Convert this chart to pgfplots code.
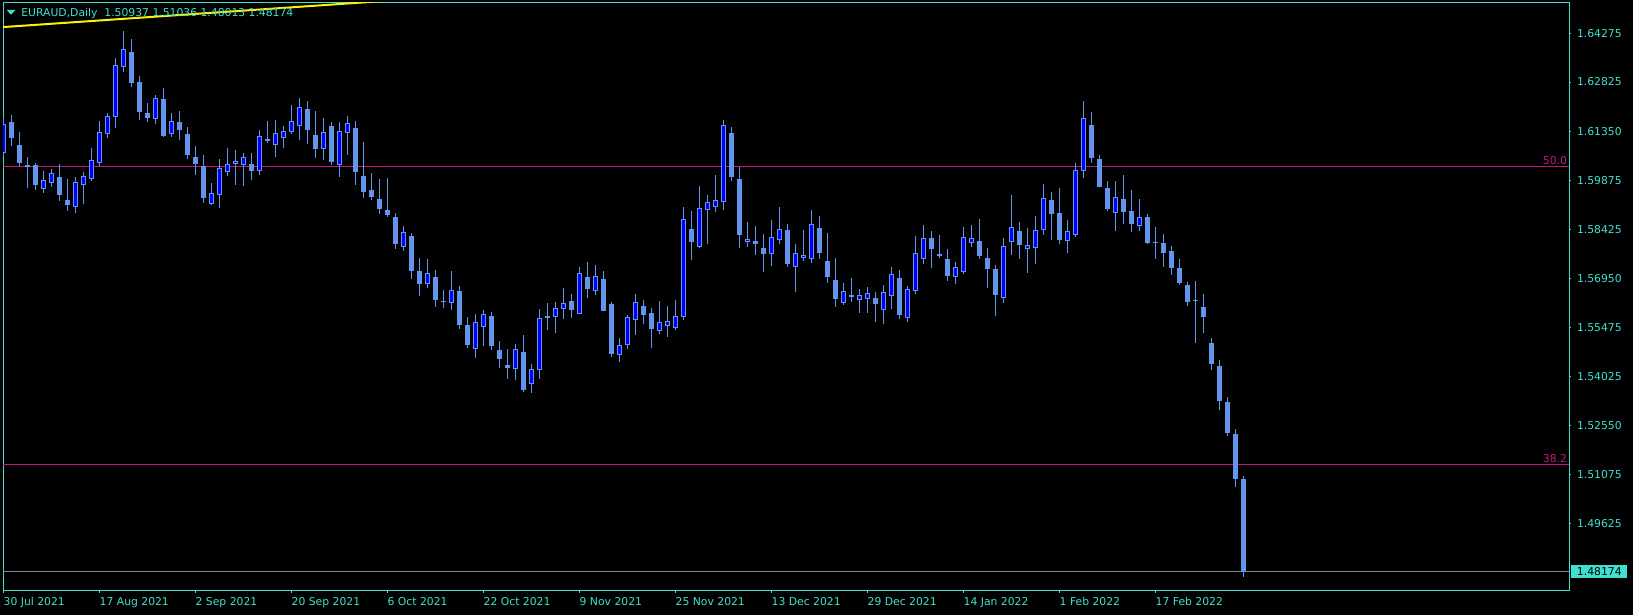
\documentclass[border=0pt]{standalone}
\usepackage{fontspec}
\setmainfont{DejaVu Sans}
\usepackage{pgfplots}
\pgfplotsset{compat=1.18}
\usepackage{pgfplotstable}
\definecolor{cf}{HTML}{6495ED}
\definecolor{bl}{HTML}{0000FF}
\definecolor{tq}{HTML}{40E0D0}
\definecolor{fib}{HTML}{C71585}
\definecolor{pl}{HTML}{778899}
\pgfplotstableread{
O H L C
1.60712 1.61750 1.60593 1.61571
1.61631 1.61840 1.60913 1.61161
1.60943 1.61332 1.60314 1.60413
1.60344 1.60584 1.59665 1.60284
1.60344 1.60395 1.59596 1.59755
1.59617 1.60165 1.59515 1.59886
1.59815 1.60225 1.59695 1.60096
1.59985 1.60374 1.59276 1.59456
1.59297 1.59925 1.58968 1.59156
1.59079 1.59985 1.58917 1.59827
1.59755 1.60135 1.59186 1.60015
1.59934 1.60853 1.59866 1.60485
1.60413 1.61661 1.60323 1.61323
1.61281 1.61900 1.61161 1.61801
1.61789 1.63546 1.61460 1.63327
1.63285 1.64354 1.63127 1.63806
1.63725 1.64114 1.62687 1.62807
1.62828 1.63007 1.61700 1.61939
1.61900 1.62199 1.61631 1.61759
1.61730 1.62439 1.61580 1.62340
1.62319 1.62648 1.61191 1.61221
1.61281 1.61909 1.61191 1.61652
1.61631 1.61960 1.61092 1.61391
1.61272 1.61481 1.60524 1.60652
1.60584 1.60913 1.60045 1.60383
1.60314 1.60643 1.59216 1.59366
1.59186 1.59806 1.59147 1.59498
1.59456 1.60524 1.59067 1.60254
1.60144 1.60853 1.60015 1.60365
1.60365 1.60793 1.59746 1.60464
1.60353 1.60703 1.59716 1.60584
1.60365 1.60703 1.59904 1.60174
1.60174 1.61391 1.60045 1.61203
1.61122 1.61661 1.61011 1.61062
1.60952 1.61691 1.60584 1.61302
1.61161 1.61511 1.60853 1.61362
1.61341 1.62139 1.61272 1.61652
1.61521 1.62349 1.61092 1.62080
1.62020 1.62259 1.60973 1.61391
1.61242 1.61960 1.60554 1.60823
1.60832 1.61750 1.60494 1.61332
1.61511 1.61631 1.60344 1.60434
1.60353 1.61631 1.59985 1.61362
1.61311 1.61810 1.60643 1.61601
1.61451 1.61661 1.59746 1.60144
1.60015 1.61032 1.59357 1.59536
1.59596 1.60105 1.59297 1.59387
1.59327 1.59925 1.58878 1.59028
1.58998 1.59955 1.58788 1.58848
1.58788 1.58908 1.57831 1.57981
1.57900 1.58519 1.57771 1.58340
1.58220 1.58310 1.56933 1.57173
1.57173 1.57562 1.56425 1.56793
1.56793 1.57532 1.56664 1.57113
1.56993 1.57203 1.56096 1.56305
1.56275 1.56604 1.56066 1.56245
1.56224 1.57173 1.56006 1.56604
1.56574 1.56724 1.55437 1.55557
1.55557 1.55796 1.54869 1.54959
1.54839 1.55886 1.54570 1.55647
1.55497 1.56006 1.54929 1.55886
1.55826 1.55946 1.54809 1.54929
1.54809 1.55078 1.54270 1.54540
1.54360 1.54839 1.53941 1.54270
1.54241 1.54989 1.53911 1.54839
1.54749 1.55258 1.53552 1.53612
1.53792 1.54390 1.53522 1.54241
1.54211 1.56036 1.53941 1.55766
1.55826 1.56215 1.55407 1.55775
1.55805 1.56245 1.55318 1.56057
1.56045 1.56664 1.55737 1.56206
1.56275 1.56485 1.55766 1.56006
1.55895 1.57292 1.55886 1.57104
1.56993 1.57442 1.56365 1.56634
1.56583 1.57352 1.56455 1.57023
1.56933 1.57173 1.55976 1.55985
1.56185 1.56245 1.54600 1.54689
1.54668 1.55168 1.54450 1.54950
1.54968 1.55856 1.54839 1.55796
1.55716 1.56485 1.55258 1.56245
1.56126 1.56305 1.55587 1.55865
1.55916 1.56066 1.54869 1.55437
1.55387 1.56275 1.55288 1.55647
1.55536 1.56126 1.55198 1.55677
1.55476 1.56305 1.55407 1.55826
1.55796 1.59088 1.55707 1.58729
1.58429 1.58968 1.57502 1.58040
1.57900 1.59716 1.57861 1.59058
1.59007 1.59447 1.57981 1.59237
1.59088 1.60045 1.58938 1.59297
1.59246 1.61691 1.58998 1.61541
1.61302 1.61481 1.59866 1.59985
1.59925 1.60284 1.57861 1.58250
1.58040 1.58639 1.57891 1.58130
1.58070 1.58519 1.57651 1.57981
1.57861 1.58280 1.57143 1.57681
1.57681 1.58699 1.57322 1.58190
1.58100 1.59088 1.57981 1.58429
1.58399 1.58579 1.57292 1.57382
1.57292 1.57981 1.56544 1.57711
1.57562 1.58399 1.57472 1.57651
1.57532 1.58998 1.57412 1.58579
1.58459 1.58818 1.57532 1.57711
1.57472 1.58310 1.56814 1.56993
1.56903 1.57562 1.56096 1.56335
1.56224 1.56814 1.56155 1.56574
1.56455 1.56963 1.56245 1.56395
1.56314 1.56634 1.55916 1.56446
1.56344 1.56694 1.55916 1.56514
1.56365 1.56544 1.55647 1.56185
1.56015 1.56754 1.55587 1.56544
1.56425 1.57292 1.56036 1.57083
1.56963 1.57203 1.55737 1.55856
1.55766 1.56724 1.55647 1.56634
1.56574 1.58220 1.56485 1.57711
1.57532 1.58549 1.57382 1.58160
1.58160 1.58370 1.57262 1.57831
1.57681 1.58250 1.57562 1.57622
1.57532 1.57831 1.56874 1.57023
1.57002 1.57442 1.56784 1.57292
1.57143 1.58489 1.57083 1.58190
1.58010 1.58549 1.57891 1.58160
1.58070 1.58729 1.57532 1.57622
1.57562 1.57861 1.56664 1.57233
1.57233 1.57352 1.55826 1.56455
1.56374 1.58160 1.56215 1.57921
1.58040 1.59447 1.57651 1.58489
1.58370 1.58639 1.57532 1.57951
1.57840 1.58459 1.57113 1.57951
1.57870 1.58818 1.57382 1.58399
1.58399 1.59776 1.58250 1.59357
1.59297 1.59536 1.58100 1.58878
1.58908 1.59656 1.57981 1.58100
1.58079 1.58699 1.57711 1.58370
1.58250 1.60404 1.58190 1.60195
1.60174 1.62259 1.59955 1.61750
1.61541 1.61930 1.60404 1.60554
1.60524 1.60643 1.59671 1.59695
1.59656 1.59866 1.58968 1.59028
1.58917 1.59866 1.58370 1.59387
1.59327 1.60045 1.58579 1.58938
1.58968 1.59596 1.58340 1.58579
1.58528 1.59327 1.58370 1.58788
1.58788 1.58878 1.57981 1.58010
1.58049 1.58489 1.57532 1.58010
1.58010 1.58280 1.57292 1.57711
1.57771 1.57921 1.57053 1.57262
1.57262 1.57532 1.56754 1.56814
1.56754 1.56844 1.56126 1.56245
1.56305 1.56874 1.55018 1.56275
1.56096 1.56485 1.55318 1.55796
1.55018 1.55168 1.54211 1.54390
1.54330 1.54510 1.53023 1.53292
1.53253 1.53403 1.52245 1.52335
1.52296 1.52445 1.50719 1.50958
1.50937 1.51036 1.48013 1.48174
}\candles
\begin{document}
\begin{tikzpicture}[font=\fontsize{5.4}{6.5}\selectfont]
\fill[black] (-1.5pt,-12pt) rectangle (815pt,295.5pt);
\begin{axis}[at={(0pt,0pt)}, anchor=south west, scale only axis,
  width=783pt, height=294pt,
  xmin=-0.0375, xmax=195.7125, ymin=1.47598, ymax=1.65191,
  axis line style={draw=tq, line width=0.5pt},
  ytick pos=right, xtick pos=bottom, tick align=outside,
  major tick length=1pt,
  tick style={draw=tq, line width=0.5pt},
  ytick={1.64275,1.62825,1.61350,1.59875,1.58425,1.56950,1.55475,1.54025,1.52550,1.51075,1.49625},
  yticklabels={1.64275,1.62825,1.61350,1.59875,1.58425,1.56950,1.55475,1.54025,1.52550,1.51075,1.49625},
  yticklabel style={anchor=west, inner sep=0pt, xshift=2.8pt, text=tq},
  xtick={0,12,...,144},
  xticklabels={30 Jul 2021,17 Aug 2021,2 Sep 2021,20 Sep 2021,6 Oct 2021,22 Oct 2021,9 Nov 2021,25 Nov 2021,13 Dec 2021,29 Dec 2021,14 Jan 2022,1 Feb 2022,17 Feb 2022},
  xticklabel style={anchor=north west, inner sep=0pt, text=tq, yshift=-1.8pt},
  /pgf/number format/assume math mode=true,
]
% Fibonacci levels and current price line
\addplot[fib, line width=0.5pt, forget plot] coordinates {(-1,1.60284) (200,1.60284)};
\addplot[fib, line width=0.5pt, forget plot] coordinates {(-1,1.51368) (200,1.51368)};
\addplot[pl, line width=0.5pt, forget plot] coordinates {(-1,1.48174) (200,1.48174)};
% wicks
\addplot[draw=none, mark=none, forget plot,
  error bars/.cd, y dir=plus, y explicit, error mark=none,
  error bar style={draw=cf, line width=0.5pt}]
  table[x expr=\coordindex, y=L, y error expr=\thisrow{H}-\thisrow{L}] {\candles};
% bodies (outline / bear fill)
\addplot[draw=none, mark=none, forget plot,
  error bars/.cd, y dir=plus, y explicit, error mark=none,
  error bar style={draw=cf, line width=2.5pt}]
  table[x expr=\coordindex, y expr={min(\thisrow{O},\thisrow{C})},
        y error expr={max(abs(\thisrow{C}-\thisrow{O}),0.0003)}] {\candles};
% bull fill
\addplot[draw=none, mark=none, forget plot,
  error bars/.cd, y dir=plus, y explicit, error mark=none,
  error bar style={draw=bl, line width=1.5pt}]
  table[x expr=\coordindex, y expr={min(\thisrow{O},\thisrow{C})+0.0003},
        y error expr={(\thisrow{C}>\thisrow{O})*max(\thisrow{C}-\thisrow{O}-0.0006,0)}] {\candles};
% trend line
\addplot[yellow, line width=1pt, forget plot] coordinates {(-0.04,1.64470) (50,1.65290)};
\end{axis}
% header
\fill[tq] (1.85pt,290.5pt) -- (6.15pt,290.5pt) -- (4pt,288.15pt) -- cycle;
\node[anchor=base west, inner sep=0pt, text=tq] at (9pt,287.2pt) {EURAUD,Daily\ \ 1.50937 1.51036 1.48013 1.48174};
% level labels
\node[anchor=base east, inner sep=0pt, text=fib] at (782.2pt,213pt) {50.0};
\node[anchor=base east, inner sep=0pt, text=fib] at (782.2pt,64pt) {38.2};
% current price box
\node[anchor=west, fill=tq, text=black, inner sep=0pt, minimum width=27.9pt, minimum height=6.7pt] at (784pt,9.63pt) {1.48174};
\pgfresetboundingbox
\path[use as bounding box] (-1.5pt,-12pt) rectangle (815pt,295.5pt);
\end{tikzpicture}
\end{document}
